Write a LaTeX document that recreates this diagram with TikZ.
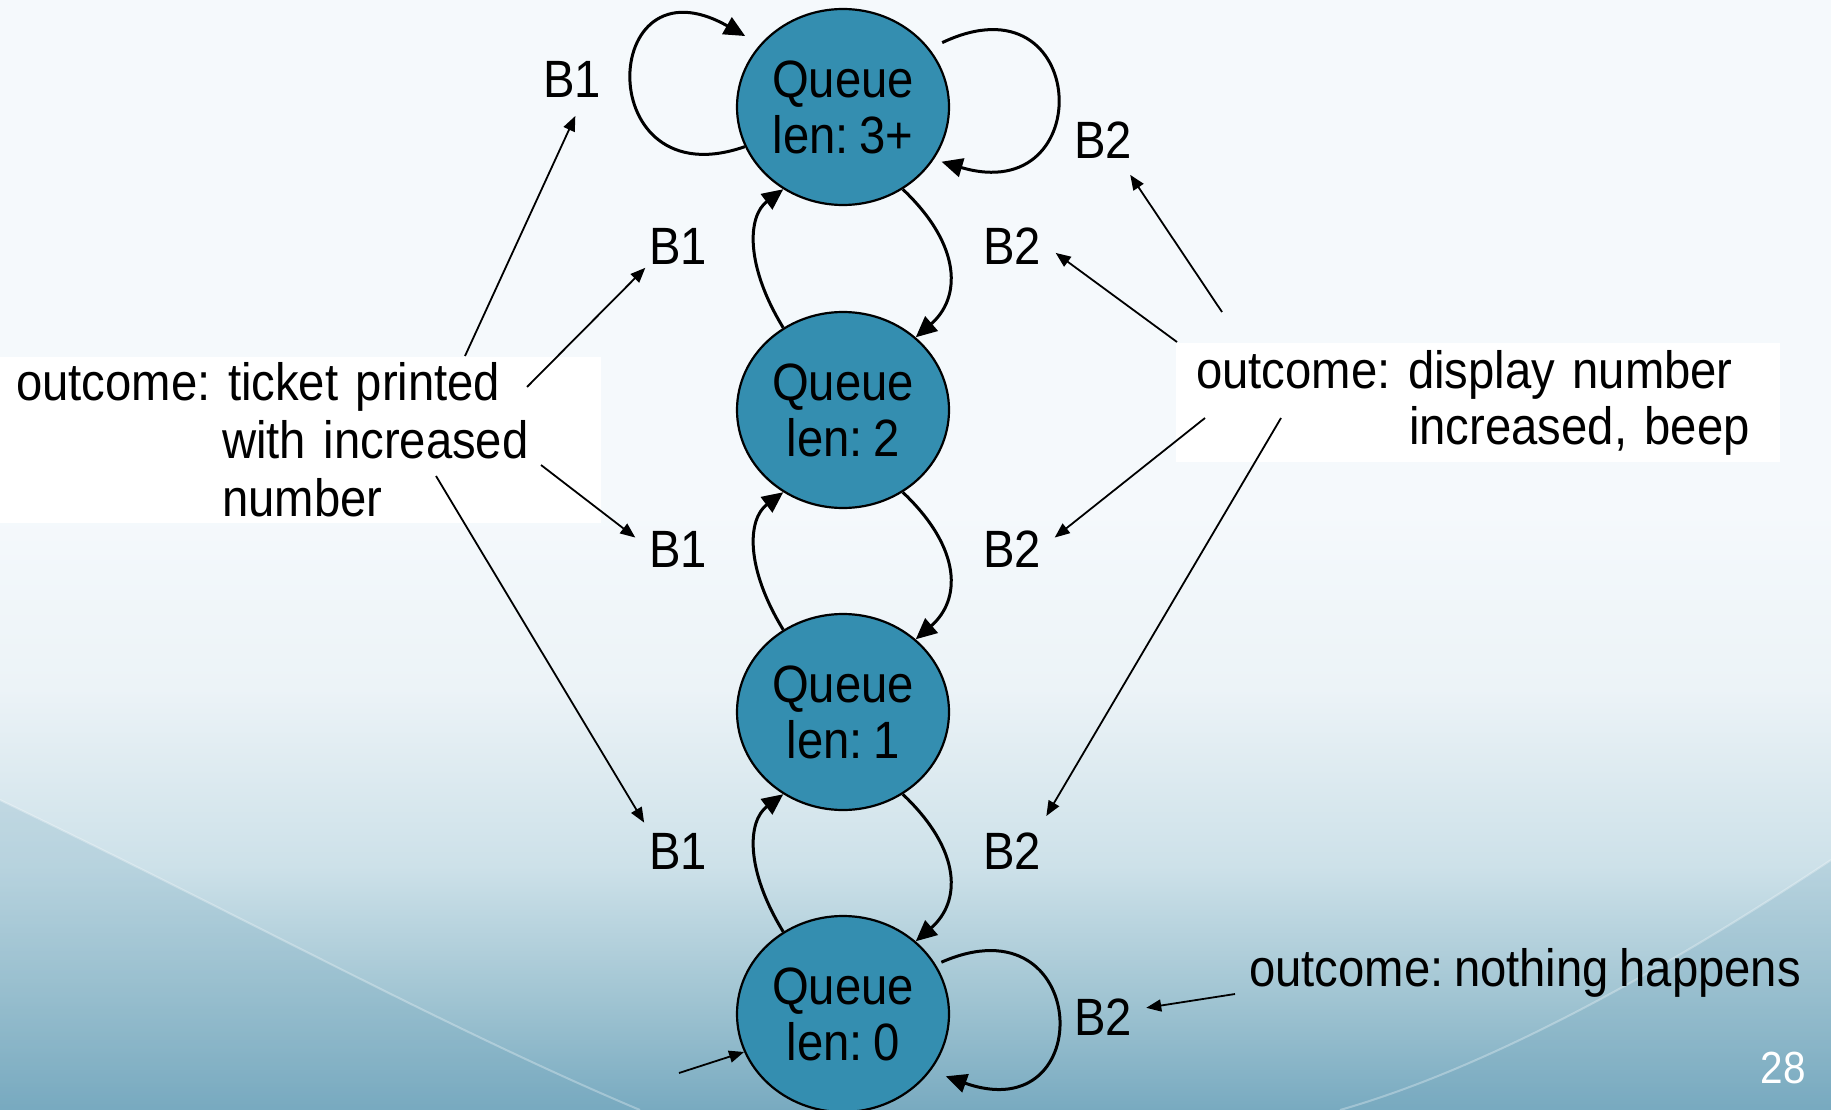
\documentclass[tikz,border=0pt]{standalone}
\usepackage{fontspec}
\setmainfont{Liberation Sans}[FakeStretch=0.9,WordSpace=0.8]
\usetikzlibrary{arrows.meta,calc,shapes.geometric}
\definecolor{nodefill}{RGB}{52,142,176}
\definecolor{bgA}{RGB}{245,249,252}
\definecolor{bgB}{RGB}{236,243,247}
\definecolor{bgC}{RGB}{205,225,233}
\definecolor{bgD}{RGB}{160,196,210}
\definecolor{bgE}{RGB}{120,170,192}
\pgfdeclareverticalshading{slidebg}{100bp}{color(0bp)=(bgE); color(25bp)=(bgE); color(30bp)=(bgD); color(36bp)=(bgC); color(44bp)=(bgB); color(52bp)=(bgA); color(100bp)=(bgA)}
\frenchspacing
\begin{document}
\begin{tikzpicture}[x=1pt,y=-1pt,
  every node/.style={font=\fontsize{52.5}{56}\selectfont, text=black},
  state/.style={ellipse, draw=black, line width=2.2pt, fill=nodefill,
    minimum width=212pt, minimum height=196pt, inner sep=0pt, align=center},
  lbl/.style={circle, minimum size=88pt, inner sep=0pt},
  trans/.style={line width=3pt, -{Triangle[length=21pt,width=19pt]}},
  ptr/.style={line width=1.8pt, -{Triangle[length=15pt,width=12pt]}},
  outbox/.style={fill=white, anchor=north west, inner ysep=0pt, align=left}
]
\useasboundingbox (0,0) rectangle (1831,1110);
\shade[shading=slidebg] (0,0) rectangle (1831,1110);
% background sweeps
\fill[bgE, opacity=0.25] (0,800) .. controls (250,920) and (450,1030) .. (640,1110) -- (0,1110) -- cycle;
\draw[white, opacity=0.3, line width=2pt] (0,800) .. controls (250,920) and (450,1030) .. (640,1110);
\fill[bgE, opacity=0.25] (1831,860) .. controls (1650,980) and (1480,1070) .. (1340,1110) -- (1831,1110) -- cycle;
\draw[white, opacity=0.3, line width=2pt] (1831,860) .. controls (1650,980) and (1480,1070) .. (1340,1110);

% outcome boxes
\node[outbox, text width=569pt, inner xsep=16pt, minimum height=166pt,
  font=\fontsize{52.5}{58}\selectfont] (lbox) at (0,357)
  {outcome: ticket printed\\\hspace*{206pt}with increased\\\hspace*{206pt}number};
\node[outbox, text width=564pt, inner xsep=20pt, minimum height=119pt] (rbox) at (1176,343)
  {outcome: display number\\\hspace*{213pt}increased, beep};
\node[anchor=west, inner sep=0pt] (nbox) at (1249,973) {outcome: nothing happens};
\node[text=white, font=\fontsize{45}{50}\selectfont] (pg) at (1783,1068) {28};

% states
\node[state] (q3) at (843,107) {Queue\\len: 3+};
\node[state] (q2) at (843,410) {Queue\\len: 2};
\node[state] (q1) at (843,712) {Queue\\len: 1};
\node[state] (q0) at (843,1014) {Queue\\len: 0};

% labels
\node[lbl] (b1a) at (572,79) {B1};
\node[lbl] (b2a) at (1103,140) {B2};
\node[lbl] (b1b) at (678,246) {B1};
\node[lbl] (b2b) at (1012,246) {B2};
\node[lbl] (b1c) at (678,549) {B1};
\node[lbl] (b2c) at (1012,549) {B2};
\node[lbl] (b1d) at (678,851) {B1};
\node[lbl] (b2d) at (1012,851) {B2};
\node[lbl] (b2e) at (1103,1017) {B2};

% transitions between states
\foreach \lo/\hi in {q2/q3, q1/q2, q0/q1} {
  \draw[trans] (\lo.126) .. controls +(-38,-62) and +(-36,27) .. (\hi.234);
  \draw[trans] (\hi.306) .. controls +(60,57) and +(45,-39) .. (\lo.45);
}
% self loops
\draw[trans, shorten >=17pt] (q3.202) .. controls +(-154,54) and +(-162,-92) .. (q3.143);
\draw[trans, shorten <=14pt, shorten >=8pt] (q3.34) .. controls +(160,-76) and +(166,49) .. (q3.330);
\draw[trans, shorten <=6pt, shorten >=16pt] (q0.28) .. controls +(155,-68) and +(169,60) .. (q0.327);

% pointers
\coordinate (sL1) at (465,356);
\coordinate (sL2) at (527,387);
\coordinate (sL3) at (541,465);
\coordinate (sL4) at (436,476);
\coordinate (sR1) at (1222,312);
\coordinate (sR2) at (1177,342);
\coordinate (sR3) at (1205,418);
\coordinate (sR4) at (1281,418);
\coordinate (sB) at (1235,994);
\coordinate (sI) at (679,1073);
\draw[ptr, shorten >=-8pt] (sL1) -- (b1a.270);
\draw[ptr, shorten >=-5pt] (sL2) -- (b1b.215);
\draw[ptr] (sL3) -- (b1c.165);
\draw[ptr] (sL4) -- (b1d.140);
\draw[ptr] (sR1) -- (b2a.308);
\draw[ptr] (sR2) -- (b2b.351);
\draw[ptr] (sR3) -- (b2c.15);
\draw[ptr, shorten >=5pt] (sR4) -- (b2d.44);
\draw[ptr] (sB) -- (b2e.12);
\draw[ptr] (sI) -- (q0.201);
\end{tikzpicture}
\end{document}
